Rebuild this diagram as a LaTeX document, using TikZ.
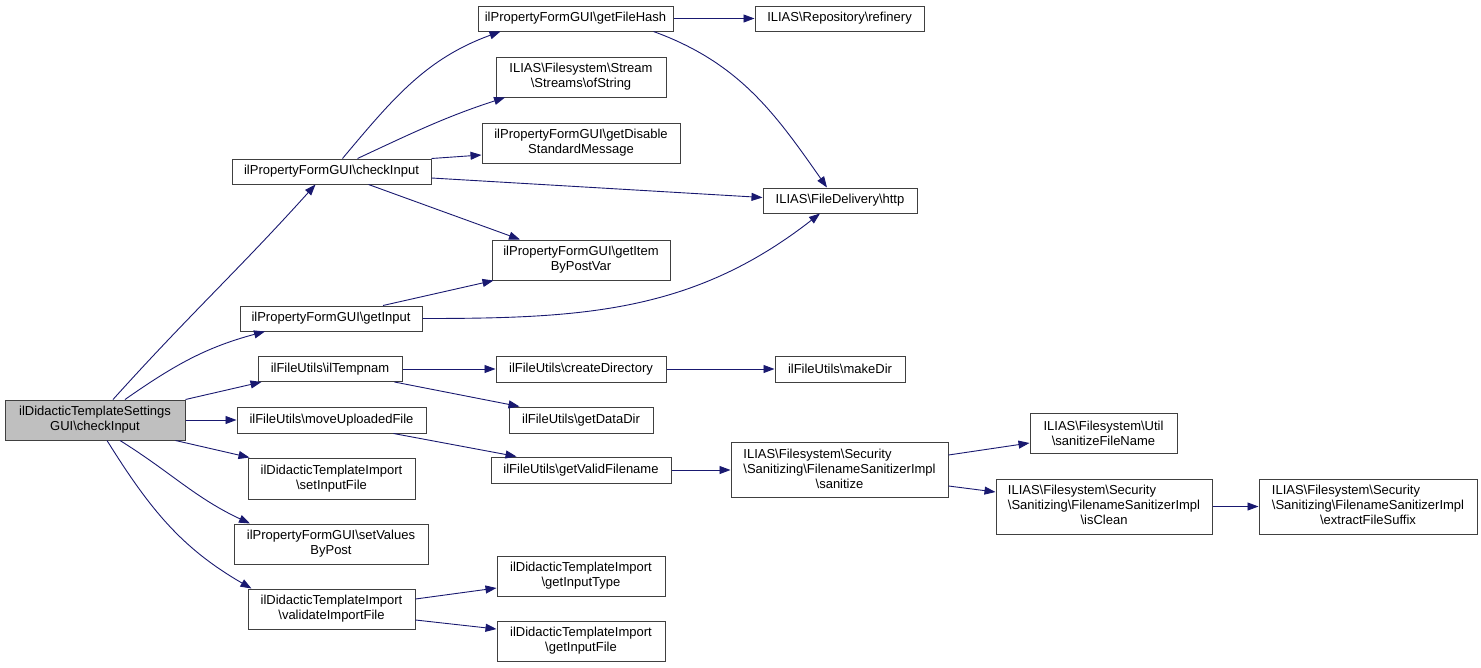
\documentclass[tikz,border=0pt]{standalone}
\usepackage{fontspec}
\setmainfont{Liberation Sans}
\usetikzlibrary{arrows.meta}
\definecolor{edgecol}{HTML}{191970}
\definecolor{boxline}{HTML}{404040}
\definecolor{rootfill}{HTML}{BFBFBF}
\def\BS{\textbackslash}
\tikzset{
  fn/.style={draw=boxline, line width=1pt, fill=white, inner sep=0pt, align=center,
    font=\fontsize{13}{15}\selectfont},
  rootbox/.style={fn, fill=rootfill},
  call/.style={draw=edgecol, line width=0.9pt, -{Triangle[length=11pt,width=8pt]}, color=edgecol},
}
\begin{document}
\begin{tikzpicture}[x=1pt,y=-1pt]
\useasboundingbox (0,0) rectangle (1481,667);
% nodes
\node[rootbox, minimum width=180, minimum height=40] (root) at (95,420) {ilDidacticTemplateSettings\\GUI\BS checkInput};
\node[fn, minimum width=199, minimum height=25] (cI) at (331.5,171.5) {ilPropertyFormGUI\BS checkInput};
\node[fn, minimum width=195, minimum height=25] (fh) at (575.5,18.5) {ilPropertyFormGUI\BS getFileHash};
\node[fn, minimum width=170, minimum height=40] (ofs) at (581,77) {ILIAS\BS Filesystem\BS Stream\\\BS Streams\BS ofString};
\node[fn, minimum width=198, minimum height=40] (gdsm) at (581,143) {ilPropertyFormGUI\BS getDisable\\StandardMessage};
\node[fn, minimum width=178, minimum height=40] (gibp) at (581,260) {ilPropertyFormGUI\BS getItem\\ByPostVar};
\node[fn, minimum width=182, minimum height=25] (gi) at (331,318.5) {ilPropertyFormGUI\BS getInput};
\node[fn, minimum width=169, minimum height=25] (ref) at (839.5,18.5) {ILIAS\BS Repository\BS refinery};
\node[fn, minimum width=154, minimum height=25] (http) at (840,200.5) {ILIAS\BS FileDelivery\BS http};
\node[fn, minimum width=144, minimum height=25] (tmp) at (330,369) {ilFileUtils\BS ilTempnam};
\node[fn, minimum width=170, minimum height=26] (cd) at (581,369) {ilFileUtils\BS createDirectory};
\node[fn, minimum width=130, minimum height=26] (mk) at (840,369) {ilFileUtils\BS makeDir};
\node[fn, minimum width=144, minimum height=26] (gdd) at (581,420) {ilFileUtils\BS getDataDir};
\node[fn, minimum width=189, minimum height=26] (mup) at (331.5,420) {ilFileUtils\BS moveUploadedFile};
\node[fn, minimum width=180, minimum height=26] (gvf) at (581,470) {ilFileUtils\BS getValidFilename};
\node[fn, minimum width=217, minimum height=55] (san) at (839.5,470) {\begin{tabular}{@{}l@{}}ILIAS\BS Filesystem\BS Security\\\BS Sanitizing\BS FilenameSanitizerImpl\\\multicolumn{1}{@{}c@{}}{\BS sanitize}\end{tabular}};
\node[fn, minimum width=167, minimum height=41] (sif) at (331.5,478.5) {ilDidacticTemplateImport\\\BS setInputFile};
\node[fn, minimum width=194, minimum height=40] (svp) at (331,544) {ilPropertyFormGUI\BS setValues\\ByPost};
\node[fn, minimum width=167, minimum height=40] (vif) at (331.5,609) {ilDidacticTemplateImport\\\BS validateImportFile};
\node[fn, minimum width=168, minimum height=40] (git) at (581,576) {ilDidacticTemplateImport\\\BS getInputType};
\node[fn, minimum width=168, minimum height=40] (gif) at (581,641) {ilDidacticTemplateImport\\\BS getInputFile};
\node[fn, minimum width=147, minimum height=40] (sfn) at (1103.5,433) {ILIAS\BS Filesystem\BS Util\\\BS sanitizeFileName};
\node[fn, minimum width=216, minimum height=55] (icl) at (1104,506.5) {\begin{tabular}{@{}l@{}}ILIAS\BS Filesystem\BS Security\\\BS Sanitizing\BS FilenameSanitizerImpl\\\multicolumn{1}{@{}c@{}}{\BS isClean}\end{tabular}};
\node[fn, minimum width=218, minimum height=55] (efs) at (1368,506.5) {\begin{tabular}{@{}l@{}}ILIAS\BS Filesystem\BS Security\\\BS Sanitizing\BS FilenameSanitizerImpl\\\multicolumn{1}{@{}c@{}}{\BS extractFileSuffix}\end{tabular}};
% edges from root
\draw[call] ([xshift=18pt]root.north) to[out=48,in=228] ([xshift=-16pt]cI.south);
\draw[call] ([xshift=30pt]root.north) to[out=35,in=195] ([xshift=-66pt]gi.south);
\draw[call] (root.north east) -- ([xshift=4pt]tmp.south west);
\draw[call] (root.east) -- (mup.west);
\draw[call] ([xshift=-10pt]root.south east) -- ([xshift=2pt]sif.north west);
\draw[call] ([xshift=25pt]root.south) to[out=-32,in=155] ([xshift=-81pt]svp.north);
\draw[call] ([xshift=12pt]root.south) to[out=-58,in=150] ([xshift=-80pt]vif.north);
% edges from checkInput
\draw[call] ([xshift=11pt]cI.north) to[out=50,in=200] ([xshift=-75pt]fh.south);
\draw[call] ([xshift=26pt]cI.north) to[out=25,in=198] ([xshift=-76pt]ofs.south);
\draw[call] (cI.north east) -- ([yshift=-12pt]gdsm.west);
\draw[call] ([yshift=-6.5pt]cI.east) -- ([yshift=3pt]http.west);
\draw[call] ([xshift=37pt]cI.south) -- ([xshift=-61pt]gibp.north);
% edges from getInput
\draw[call] ([xshift=52pt]gi.north) -- ([xshift=2pt]gibp.south west);
\draw[call] (gi.east) to[out=0,in=218] ([xshift=-20pt]http.south);
% getFileHash
\draw[call] (fh.east) -- (ref.west);
\draw[call] ([xshift=78pt]fh.south) to[out=-20,in=125] ([xshift=-13pt]http.north);
% ilTempnam
\draw[call] (tmp.east) -- (cd.west);
\draw[call] ([xshift=-8pt]tmp.south east) -- ([xshift=11pt]gdd.north west);
\draw[call] (cd.east) -- (mk.west);
% moveUploadedFile
\draw[call] ([xshift=62pt]mup.south) -- ([xshift=26pt]gvf.north west);
\draw[call] (gvf.east) -- (san.west);
\draw[call] ([yshift=15pt]san.east) -- ([yshift=-10pt]sfn.west);
\draw[call] ([yshift=-16pt]san.east) -- ([yshift=14.5pt]icl.west);
\draw[call] (icl.east) -- (efs.west);
% validateImportFile
\draw[call] ([yshift=10pt]vif.east) -- ([yshift=-12pt]git.west);
\draw[call] ([yshift=-11pt]vif.east) -- ([yshift=12pt]gif.west);
\end{tikzpicture}
\end{document}
